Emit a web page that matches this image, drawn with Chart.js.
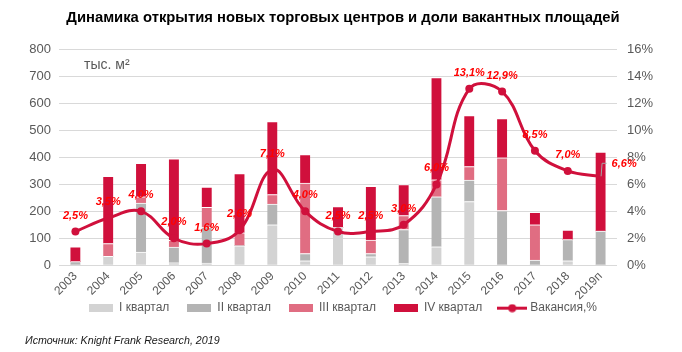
<!DOCTYPE html>
<html>
<head>
<meta charset="utf-8">
<script src="https://cdn.jsdelivr.net/npm/chart.js@4/dist/chart.umd.min.js"></script>
<style>
  html, body { margin: 0; padding: 0; background: #ffffff; }
  #wrap { position: relative; width: 682px; height: 352px; }
</style>
</head>
<body>
<div id="wrap"><canvas id="c" width="682" height="352"></canvas></div>
<script>
const years = ['2003','2004','2005','2006','2007','2008','2009','2010','2011','2012','2013','2014','2015','2016','2017','2018','2019п'];
const q1 = [0, 33, 49, 9, 8, 72, 150, 16, 140, 31, 6, 68, 236, 0, 0, 16, 0];
const q2 = [13, 0, 182, 58, 133, 0, 77, 27, 0, 12, 126, 186, 80, 203, 19, 79, 127];
const q3 = [0, 47, 23, 25, 74, 48, 35, 262, 0, 50, 52, 63, 50, 196, 131, 0, 0];
const q4 = [55, 250, 124, 303, 75, 220, 271, 106, 78, 200, 115, 380, 190, 145, 46, 35, 293];
const vacancy = [2.5, 3.5, 4.0, 2.0, 1.6, 2.6, 7.1, 4.0, 2.5, 2.5, 3.0, 6.0, 13.1, 12.9, 8.5, 7.0, 6.6];
const seriesNames = ['I квартал', 'II квартал', 'III квартал', 'IV квартал', 'Вакансия,%'];
const leftTicks = [0, 100, 200, 300, 400, 500, 600, 700, 800];
const rightTicks = [0, 2, 4, 6, 8, 10, 12, 14, 16];

const C1 = '#d3d3d3', C2 = '#b4b4b4', C3 = '#e06d82', C4 = '#d0103c', CL = '#d0103c';
const FONT = "'Liberation Sans', Arial, sans-serif";
const GRAYTXT = '#595959';
const LEGEND_LIFT = 18;

function swatch(w, h, color, isLine) {
  const cv = document.createElement('canvas');
  cv.width = w; cv.height = h;
  const g = cv.getContext('2d');
  if (isLine) {
    g.strokeStyle = color; g.lineWidth = 3;
    g.beginPath(); g.moveTo(0, h / 2); g.lineTo(w, h / 2); g.stroke();
    g.fillStyle = color;
    g.beginPath(); g.arc(w / 2, h / 2, 4, 0, Math.PI * 2); g.fill();
  } else {
    g.fillStyle = color; g.fillRect(0, 0, w, h);
  }
  return cv;
}

const legendTweak = {
  id: 'legendTweak',
  afterInit(chart) {
    const lg = chart.legend;
    const origFit = lg.fit.bind(lg);
    lg.fit = function () { origFit(); this.height = Math.max(0, this.height - LEGEND_LIFT); };
  },
  afterLayout(chart) {
    const lg = chart.legend;
    lg.top -= LEGEND_LIFT;
    lg.height += LEGEND_LIFT;
  }
};

const labelsPlugin = {
  id: 'vacLabels',
  afterDatasetsDraw(chart) {
    const ctx = chart.ctx;
    const meta = chart.getDatasetMeta(0);
    ctx.save();
    ctx.font = "italic bold 11px " + FONT;
    ctx.fillStyle = '#ff0000';
    ctx.textBaseline = 'middle';
    meta.data.forEach((pt, i) => {
      const txt = vacancy[i].toFixed(1).replace('.', ',') + '%';
      if (i === meta.data.length - 1) {
        ctx.strokeStyle = '#a6a6a6'; ctx.lineWidth = 1;
        ctx.beginPath();
        ctx.moveTo(pt.x + 0.5, pt.y);
        ctx.lineTo(pt.x + 1.5, pt.y - 13);
        ctx.lineTo(pt.x + 6, pt.y - 13);
        ctx.stroke();
        ctx.textAlign = 'left';
        ctx.fillText(txt, pt.x + 11, pt.y - 12);
      } else {
        ctx.textAlign = 'center';
        ctx.fillText(txt, pt.x, pt.y - 16);
      }
    });
    const ca = chart.chartArea;
    ctx.font = "14px " + FONT;
    ctx.fillStyle = GRAYTXT;
    ctx.textAlign = 'left';
    ctx.textBaseline = 'alphabetic';
    ctx.fillText('тыс. м²', ca.left + 25, ca.top + 19);
    ctx.restore();
  }
};

new Chart(document.getElementById('c'), {
  data: {
    labels: years,
    datasets: [
      { type: 'line', label: seriesNames[4], data: vacancy, yAxisID: 'y1', borderColor: CL, backgroundColor: CL,
        borderWidth: 3, pointRadius: 4, pointHoverRadius: 4, pointBackgroundColor: CL, pointBorderWidth: 0,
        tension: 0.4, order: 0 },
      { type: 'bar', label: seriesNames[0], data: q1, backgroundColor: C1, stack: 's', yAxisID: 'y', order: 1 },
      { type: 'bar', label: seriesNames[1], data: q2, backgroundColor: C2, stack: 's', yAxisID: 'y', order: 1 },
      { type: 'bar', label: seriesNames[2], data: q3, backgroundColor: C3, stack: 's', yAxisID: 'y', order: 1 },
      { type: 'bar', label: seriesNames[3], data: q4, backgroundColor: C4, stack: 's', yAxisID: 'y', order: 1 }
    ]
  },
  options: {
    responsive: false,
    animation: false,
    devicePixelRatio: 1,
    datasets: {
      bar: { barThickness: 10, borderColor: '#ffffff', borderWidth: { top: 1, left: 0, right: 0, bottom: 0 }, borderSkipped: false }
    },
    layout: { padding: { left: 25, right: 21, top: 5, bottom: 5 } },
    plugins: {
      title: { display: true, text: 'Динамика открытия новых торговых центров и доли вакантных площадей',
        color: '#000000', font: { family: FONT, size: 14.8, weight: 'bold' }, padding: { top: 4, bottom: 23 } },
      subtitle: { display: true, position: 'bottom', align: 'start', text: 'Источник: Knight Frank Research, 2019',
        color: '#1a1a1a', font: { family: FONT, size: 10.7, style: 'italic' }, padding: { top: 10, bottom: 0 } },
      legend: {
        position: 'bottom',
        labels: {
          font: { family: FONT, size: 12 }, color: GRAYTXT, usePointStyle: true, pointStyleWidth: 24, boxHeight: 8, padding: 18,
          generateLabels(chart) {
            const order = [1, 2, 3, 4, 0];
            return order.map(di => {
              const ds = chart.data.datasets[di];
              const isLine = di === 0;
              return { text: ds.label, datasetIndex: di, fontColor: GRAYTXT,
                pointStyle: isLine ? swatch(30, 9, CL, true) : swatch(24, 8, ds.backgroundColor, false),
                fillStyle: ds.backgroundColor, strokeStyle: ds.backgroundColor, lineWidth: 0, hidden: false };
            });
          }
        }
      },
      tooltip: { enabled: false }
    },
    scales: {
      x: {
        stacked: true,
        grid: { display: false, drawTicks: false },
        border: { display: false },
        ticks: { color: GRAYTXT, font: { family: FONT, size: 12 }, autoSkip: false, minRotation: 45, maxRotation: 45, padding: 4 },
        afterFit(axis) { axis.height = 37; }
      },
      y: {
        stacked: true, position: 'left', min: 0, max: 800,
        afterBuildTicks(axis) { axis.ticks = leftTicks.map(v => ({ value: v })); },
        afterFit(axis) { axis.width = 34; },
        grid: { color: '#d9d9d9', lineWidth: 1, drawTicks: false },
        border: { display: false },
        ticks: { color: GRAYTXT, font: { family: FONT, size: 13 }, padding: 8 }
      },
      y1: {
        position: 'right', min: 0, max: 16,
        afterBuildTicks(axis) { axis.ticks = rightTicks.map(v => ({ value: v })); },
        afterFit(axis) { axis.width = 44; },
        grid: { display: false, drawTicks: false },
        border: { display: false },
        ticks: { color: GRAYTXT, font: { family: FONT, size: 13 }, padding: 10, callback: v => v + '%' }
      }
    }
  },
  plugins: [legendTweak, labelsPlugin]
});
</script>
</body>
</html>
